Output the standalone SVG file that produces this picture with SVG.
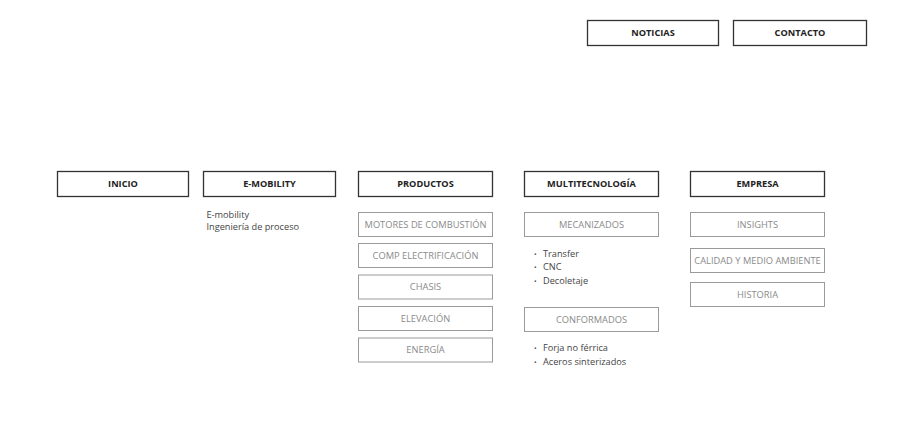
<svg xmlns="http://www.w3.org/2000/svg" width="903" height="447" viewBox="0 0 903 447">
<style>
.h rect{fill:#fff;stroke:#333;stroke-width:1.3}
.h text{font-family:"Open Sans",sans-serif;font-weight:700;font-size:9.2px;fill:#222;text-anchor:middle}
.s rect{fill:#fff;stroke:#9a9a9a;stroke-width:1}
.s text{font-family:"Open Sans",sans-serif;font-weight:400;font-size:9.3px;fill:#8a8a8a;text-anchor:middle}
.t{font-family:"Open Sans",sans-serif;font-size:9.2px;fill:#444}
.b{font-family:"Open Sans",sans-serif;font-size:7px;fill:#555}
</style>
<rect width="903" height="447" fill="#fff"/>
<g id="noticias" class="h"><rect x="587.5" y="20.5" width="131" height="25"/><text x="653" y="36.3">NOTICIAS</text></g>
<g id="contacto" class="h"><rect x="733.5" y="20.5" width="133" height="25"/><text x="800" y="36.3">CONTACTO</text></g>
<g id="inicio" class="h"><rect x="57.5" y="171.5" width="131" height="25"/><text x="123" y="187.3">INICIO</text></g>
<g id="emobility" class="h"><rect x="203.5" y="171.5" width="132" height="25"/><text x="269.5" y="187.3">E-MOBILITY</text></g>
<g id="emobility-list"><text class="t" x="206.5" y="218">E-mobility</text><text class="t" x="206.5" y="230">Ingeniería de proceso</text></g>
<g id="productos" class="h"><rect x="358.5" y="171.5" width="134" height="25"/><text x="425.5" y="187.3">PRODUCTOS</text></g>
<g id="motores" class="s"><rect x="358.5" y="212.5" width="134" height="24"/><text x="425.5" y="227.8">MOTORES DE COMBUSTIÓN</text></g>
<g id="comp" class="s"><rect x="358.5" y="243.5" width="134" height="24"/><text x="425.5" y="258.8">COMP ELECTRIFICACIÓN</text></g>
<g id="chasis" class="s"><rect x="358.5" y="275" width="134" height="24"/><text x="425.5" y="290.3">CHASIS</text></g>
<g id="elevacion" class="s"><rect x="358.5" y="306.5" width="134" height="24"/><text x="425.5" y="321.8">ELEVACIÓN</text></g>
<g id="energia" class="s"><rect x="358.5" y="338" width="134" height="24"/><text x="425.5" y="353.3">ENERGÍA</text></g>
<g id="multitecnologia" class="h"><rect x="524.5" y="171.5" width="134" height="25"/><text x="591.5" y="187.3">MULTITECNOLOGÍA</text></g>
<g id="mecanizados" class="s"><rect x="524.5" y="212.5" width="134" height="24"/><text x="591.5" y="227.8">MECANIZADOS</text></g>
<g id="mecanizados-list"><text class="b" x="534" y="256.5">•</text><text class="t" x="543" y="257">Transfer</text><text class="b" x="534" y="269.5">•</text><text class="t" x="543" y="270">CNC</text><text class="b" x="534" y="283.5">•</text><text class="t" x="543" y="284">Decoletaje</text></g>
<g id="conformados" class="s"><rect x="524.5" y="307.5" width="134" height="24"/><text x="591.5" y="322.8">CONFORMADOS</text></g>
<g id="conformados-list"><text class="b" x="534" y="350.5">•</text><text class="t" x="543" y="351">Forja no férrica</text><text class="b" x="534" y="364.5">•</text><text class="t" x="543" y="365">Aceros sinterizados</text></g>
<g id="empresa" class="h"><rect x="690.5" y="171.5" width="134" height="25"/><text x="757.5" y="187.3">EMPRESA</text></g>
<g id="insights" class="s"><rect x="690.5" y="212.5" width="134" height="24"/><text x="757.5" y="227.8">INSIGHTS</text></g>
<g id="calidad" class="s"><rect x="690.5" y="248.5" width="134" height="24"/><text x="757.5" y="263.8">CALIDAD Y MEDIO AMBIENTE</text></g>
<g id="historia" class="s"><rect x="690.5" y="282.5" width="134" height="24"/><text x="757.5" y="297.8">HISTORIA</text></g>
<g id="connectors"/>
</svg>
